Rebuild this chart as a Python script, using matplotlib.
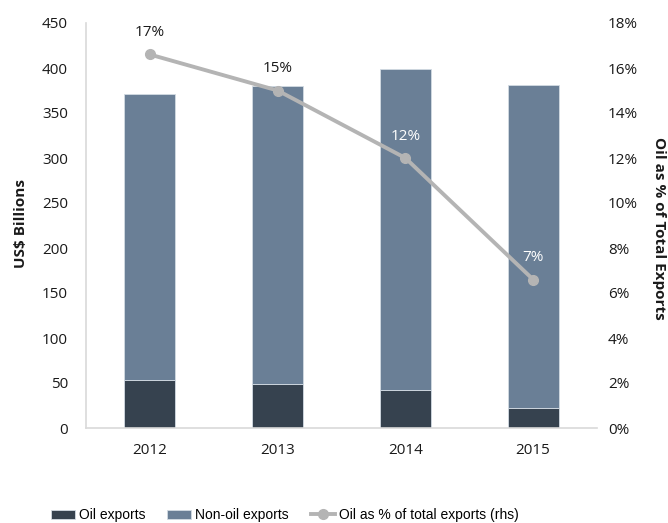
import matplotlib
matplotlib.use("Agg")
import matplotlib.pyplot as plt
from matplotlib.ticker import FuncFormatter

plt.rcParams['font.family'] = ['Open Sans', 'DejaVu Sans']

years = ["2012", "2013", "2014", "2015"]
oil_exports = [53.5, 49.0, 42.5, 22.5]
non_oil_exports = [318.0, 331.5, 356.5, 358.5]
oil_share_pct = [16.6, 15.0, 12.0, 6.6]

oil_color = "#36424f"
non_oil_color = "#6a7f96"
line_color = "#b4b4b4"
spine_color = "#d9d9d9"
text_color = "#1a1a1a"
fs = 11

fig = plt.figure(figsize=(6.68, 5.23), dpi=100)
ax = fig.add_axes([86 / 668, 1 - 428 / 523, 511 / 668, 405 / 523])
ax2 = ax.twinx()

x = list(range(len(years)))
ax.bar(x, oil_exports, width=0.4, color=oil_color, edgecolor="#d3dbe3",
       linewidth=0.6, label="Oil exports", zorder=2)
ax.bar(x, non_oil_exports, width=0.4, bottom=oil_exports, color=non_oil_color,
       edgecolor="#d3dbe3", linewidth=0.6, label="Non-oil exports", zorder=2)

ax.set_xlim(-0.5, len(years) - 0.5)
ax.set_ylim(0, 450)
ax.set_yticks(range(0, 451, 50))
ax.set_xticks(x)
ax.set_xticklabels(years)
ax.tick_params(length=0, labelsize=fs, colors=text_color)
ax.tick_params(axis="x", pad=11)
ax.tick_params(axis="y", pad=13)
for s in ("top", "right"):
    ax.spines[s].set_visible(False)
for s in ("left", "bottom"):
    ax.spines[s].set_color(spine_color)
    ax.spines[s].set_linewidth(1.2)

ax2.plot(x, oil_share_pct, color=line_color, linewidth=2.8, marker="o",
         markersize=7, label="Oil as % of total exports (rhs)", zorder=3)
ax2.set_ylim(0, 18)
ax2.set_yticks(range(0, 19, 2))
ax2.yaxis.set_major_formatter(FuncFormatter(lambda v, p: f"{v:.0f}%"))
ax2.tick_params(length=0, labelsize=fs, colors=text_color, pad=8)
for s in ("top", "right", "left", "bottom"):
    ax2.spines[s].set_visible(False)

label_colors = [text_color, text_color, "white", "white"]
for xi, v, c in zip(x, oil_share_pct, label_colors):
    ax2.annotate(f"{v:.0f}%", (xi, v), xytext=(0, 15.5), textcoords="offset points",
                 ha="center", va="center", fontsize=fs, color=c, zorder=4)

# axis titles
fig.text(21 / 668, 1 - 223 / 523, "US$ Billions", rotation=90, ha="center",
         va="center", fontsize=fs, fontweight="bold", color=text_color)
fig.text(659 / 668, 1 - 228 / 523, "Oil as % of Total Exports", rotation=270,
         ha="center", va="center", fontsize=fs, fontweight="bold", color=text_color)

h1, l1 = ax.get_legend_handles_labels()
h2, l2 = ax2.get_legend_handles_labels()
fig.legend(h1 + h2, l1 + l2, loc="center left",
           bbox_to_anchor=(38 / 668, 1 - 515 / 523),
           ncol=3, frameon=False,
           prop={"family": ["Liberation Sans", "DejaVu Sans"], "size": 10},
           handlelength=1.75, handleheight=0.6, handletextpad=0.3, columnspacing=1.55)

fig.savefig("out.png", dpi=100)
